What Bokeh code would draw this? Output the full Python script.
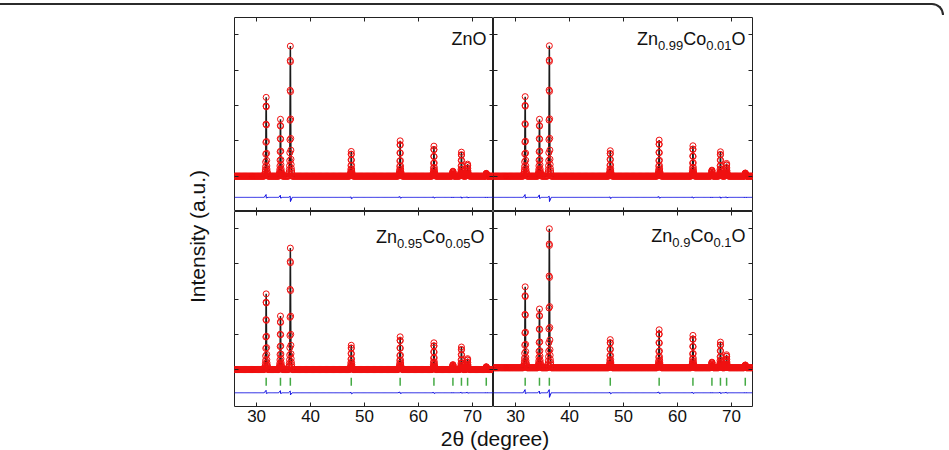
import numpy as np
from bokeh.plotting import figure
from bokeh.models import Range1d, LinearAxis, FixedTicker, Label, Div, ColumnDataSource, Grid
from bokeh.layouts import row, column
from bokeh.embed import file_html
from bokeh.resources import INLINE

FONT = "Liberation Sans"

# ---------------- data ----------------
peak_2theta = [31.77, 34.42, 36.25, 47.54, 56.60, 62.86, 66.38, 67.96, 69.10, 72.56]
bragg_2theta = [31.77, 34.42, 36.25, 47.54, 56.60, 62.86, 66.38, 67.96, 69.10, 72.56]

# peak heights above background (units of one y tick interval)
height_zno = [2.23, 1.61, 3.68, 0.70, 1.00, 0.85, 0.14, 0.68, 0.34, 0.08]
height_co001 = [2.25, 1.61, 3.69, 0.72, 1.02, 0.86, 0.17, 0.69, 0.36, 0.09]
height_co005 = [2.15, 1.52, 3.45, 0.69, 0.93, 0.76, 0.14, 0.64, 0.31, 0.08]
height_co010 = [2.30, 1.67, 3.95, 0.80, 1.08, 0.92, 0.16, 0.73, 0.37, 0.08]

# difference curve excursions at each peak
diff_hi_zno = [0.08, 0.06, 0.03, 0.01, 0.02, 0.01, 0.00, 0.01, 0.01, 0.00]
diff_lo_zno = [-0.02, -0.02, -0.12, -0.04, -0.02, -0.02, 0.00, -0.02, -0.01, 0.00]
diff_hi_co001 = [0.08, 0.07, 0.03, 0.01, 0.02, 0.01, 0.00, 0.01, 0.01, 0.00]
diff_lo_co001 = [-0.02, -0.03, -0.12, -0.03, -0.02, -0.02, 0.00, -0.02, -0.01, 0.00]
diff_hi_co005 = [0.07, 0.06, 0.05, 0.01, 0.02, 0.01, 0.00, 0.01, 0.01, 0.00]
diff_lo_co005 = [-0.02, -0.02, -0.06, -0.03, -0.02, -0.02, 0.00, -0.01, -0.01, 0.00]
diff_hi_co010 = [0.09, 0.05, 0.09, 0.01, 0.02, 0.01, 0.00, 0.01, 0.01, 0.00]
diff_lo_co010 = [-0.02, -0.02, -0.13, -0.03, -0.02, -0.02, 0.00, -0.02, -0.01, 0.00]

background = [0.0, 0.0, 0.0, 0.05]
diff_level = [-0.60, -0.60, -0.66, -0.66]

# step-scan points across one reflection (offset in degrees, relative intensity)
profile_offset = [-0.30, -0.24, -0.19, -0.15, -0.12, -0.10, -0.08, -0.06, -0.04, -0.02, 0.00,
                  0.02, 0.04, 0.06, 0.08, 0.10, 0.12, 0.15, 0.19, 0.24, 0.30]
profile_rel = [0.02, 0.03, 0.05, 0.08, 0.12, 0.18, 0.28, 0.43, 0.66, 0.89, 1.00,
               0.88, 0.65, 0.44, 0.29, 0.20, 0.13, 0.09, 0.06, 0.04, 0.02]

scan_start, scan_stop, scan_step = 25.9, 73.9, 0.1

x_lo, x_hi = 25.9, 73.9
y_top_range = (-1.0, 4.49)
y_bottom_range = (-1.05, 4.49)
x_ticks = [30, 40, 50, 60, 70]
y_ticks = [0, 1, 2, 3, 4]

x_title = "2\u03b8 (degree)"
y_title = "Intensity (a.u.)"

label_parts = [
    [("ZnO", 0)],
    [("Zn", 0), ("0.99", 1), ("Co", 0), ("0.01", 1), ("O", 0)],
    [("Zn", 0), ("0.95", 1), ("Co", 0), ("0.05", 1), ("O", 0)],
    [("Zn", 0), ("0.9", 1), ("Co", 0), ("0.1", 1), ("O", 0)],
]
heights = [height_zno, height_co001, height_co005, height_co010]
diff_hi = [diff_hi_zno, diff_hi_co001, diff_hi_co005, diff_hi_co010]
diff_lo = [diff_lo_zno, diff_lo_co001, diff_lo_co005, diff_lo_co010]

# ---------------- build series ----------------
scan = np.round(np.arange(scan_start, scan_stop + 1e-9, scan_step), 3)
near = np.zeros(scan.size, dtype=bool)
for c in peak_2theta:
    near |= np.abs(scan - c) <= 0.31
base_x = scan[~near]
off = np.array(profile_offset)
rel = np.array(profile_rel)


def pattern(h, bg):
    px = np.concatenate([c + off for c in peak_2theta])
    py = np.concatenate([bg + hh * rel for hh in h])
    x = np.concatenate([base_x, px])
    y = np.concatenate([np.full(base_x.size, bg), py])
    o = np.argsort(x, kind="stable")
    return x[o], y[o]


def difference(hi, lo, level):
    dx = np.concatenate([base_x, np.array(peak_2theta) - 0.02, np.array(peak_2theta) + 0.02])
    dy = np.concatenate([np.zeros(base_x.size), hi, lo]) + level
    o = np.argsort(dx, kind="stable")
    return dx[o], dy[o]


CHAR_W = {"Z": 0.611, "n": 0.556, "C": 0.722, "o": 0.556, "O": 0.778, ".": 0.278}


def text_w(s, size):
    return sum(CHAR_W.get(ch, 0.556) for ch in s) * size


def make_axis(ticks, labels, fixed=None):
    ax = LinearAxis()
    ax.ticker = FixedTicker(ticks=ticks)
    ax.major_tick_in = 4
    ax.major_tick_out = 0
    ax.minor_tick_in = 0
    ax.minor_tick_out = 0
    ax.axis_line_color = None
    ax.major_tick_line_color = "#222222"
    ax.major_tick_line_width = 1
    if labels:
        ax.major_label_text_font = FONT
        ax.major_label_text_font_size = "17px"
        ax.major_label_text_color = "#111111"
        ax.major_label_standoff = 3
    else:
        ax.major_label_text_color = None
        ax.major_label_standoff = 0
    if fixed is not None:
        ax.fixed_location = fixed
    return ax


def hide_grids(p):
    for g in p.select(type=Grid):
        g.visible = False


MAIN, SUB = 18, 13
label_right = [252, 252, 250, 252]
label_base_from_top = [21.5, 21.5, 25.5, 24.5]

panels = []
for i in range(4):
    top = i < 2
    left = i % 2 == 0
    frame_h = 194 if top else 195
    mb_top = 10 if top else 0
    mb_bottom = 0 if top else 22
    mb_left = 10 if left else 0
    mb_right = 0 if left else 10
    y_lo, y_hi = y_top_range if top else y_bottom_range
    p = figure(width=259 + mb_left + mb_right, height=frame_h + mb_top + mb_bottom,
               x_range=Range1d(x_lo, x_hi), y_range=Range1d(y_lo, y_hi),
               x_axis_location=None, y_axis_location=None, title=None,
               toolbar_location=None, output_backend="svg",
               min_border_left=mb_left, min_border_right=mb_right,
               min_border_top=mb_top, min_border_bottom=mb_bottom,
               background_fill_color="white", border_fill_color="white")
    hide_grids(p)
    p.outline_line_color = "#222222"
    p.outline_line_width = 1
    if top:
        p.add_layout(make_axis(x_ticks, False, y_lo), "below")
    else:
        p.add_layout(make_axis(x_ticks, True), "below")
    p.add_layout(make_axis(x_ticks, False, y_hi), "above")
    p.add_layout(make_axis(y_ticks, False, x_lo), "left")
    p.add_layout(make_axis(y_ticks, False, x_hi), "right")

    ox, oy = pattern(heights[i], background[i])
    src = ColumnDataSource(dict(x=ox, y=oy))
    p.line("x", "y", source=src, line_color="#1a1a1a", line_width=1.5)
    p.scatter("x", "y", source=src, marker="circle", size=6, fill_color=None,
              line_color="#f01010", line_width=1)
    dx, dy = difference(diff_hi[i], diff_lo[i], diff_level[i])
    p.line(dx, dy, line_color="#1010e0", line_width=1)
    if not top:
        p.scatter(bragg_2theta, [-0.35] * len(bragg_2theta), marker="dash", angle=np.pi / 2,
                  size=8, line_color="#44aa44", line_width=1.5)

    # sample label with subscripts, right aligned
    xr = label_right[i]
    yb = frame_h - label_base_from_top[i]
    for txt, sub in reversed(label_parts[i]):
        fs = SUB if sub else MAIN
        p.add_layout(Label(x=xr, y=yb - (6 if sub else 0), x_units="screen", y_units="screen",
                           text=txt, text_align="right", text_baseline="alphabetic",
                           text_font=FONT, text_font_size=f"{fs}px", text_color="#111111"))
        xr -= text_w(txt, fs)
    panels.append(p)

ylab = figure(width=224, height=421, toolbar_location=None, output_backend="svg",
              x_axis_location=None, y_axis_location=None, min_border=0, title=None,
              outline_line_color=None, border_fill_color="white")
hide_grids(ylab)
ylab.add_layout(Label(x=197, y=192, x_units="screen", y_units="screen",
                      text=y_title, angle=np.pi / 2, text_align="center",
                      text_baseline="middle", text_font=FONT, text_font_size="21px",
                      text_color="#111111"))

xlab = Div(text=('<div style="width:542px;text-align:center;font-family:\'Liberation Sans\';'
                 'font-size:21px;line-height:22px;color:#111111;white-space:nowrap;">'
                 + x_title + '</div>'),
           width=538, height=22, margin=0)

top_div = Div(text='<div style="position:absolute;left:0;top:3px;width:944px;height:12px;'
                   'border-top:2px solid #2b2b2b;border-right:2px solid #2b2b2b;'
                   'border-top-right-radius:12px;"></div>', width=949, height=7, margin=0)

layout = column(top_div,
                row(ylab, column(row(panels[0], panels[1]), row(panels[2], panels[3]), xlab)))

open("out.html", "w").write(file_html(layout, INLINE))
